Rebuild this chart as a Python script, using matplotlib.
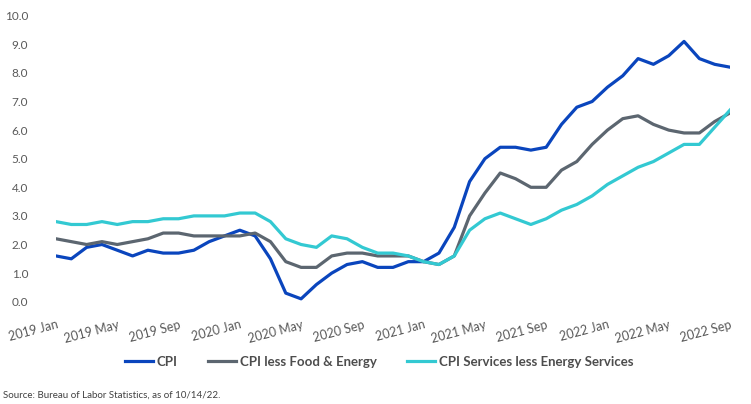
import matplotlib
matplotlib.use("Agg")
import matplotlib.pyplot as plt

plt.rcParams['font.family'] = ['Lato', 'DejaVu Sans']

# monthly, 2019 Jan .. 2022 Sep (year-over-year %)
months = ["Jan", "Feb", "Mar", "Apr", "May", "Jun", "Jul", "Aug", "Sep", "Oct", "Nov", "Dec"]
labels = [f"{y} {m}" for y in (2019, 2020, 2021, 2022) for m in months][:45]

cpi = [1.6, 1.5, 1.9, 2.0, 1.8, 1.6, 1.8, 1.7, 1.7, 1.8, 2.1, 2.3,
       2.5, 2.3, 1.5, 0.3, 0.1, 0.6, 1.0, 1.3, 1.4, 1.2, 1.2, 1.4,
       1.4, 1.7, 2.6, 4.2, 5.0, 5.4, 5.4, 5.3, 5.4, 6.2, 6.8, 7.0,
       7.5, 7.9, 8.5, 8.3, 8.6, 9.1, 8.5, 8.3, 8.2]
core = [2.2, 2.1, 2.0, 2.1, 2.0, 2.1, 2.2, 2.4, 2.4, 2.3, 2.3, 2.3,
        2.3, 2.4, 2.1, 1.4, 1.2, 1.2, 1.6, 1.7, 1.7, 1.6, 1.6, 1.6,
        1.4, 1.3, 1.6, 3.0, 3.8, 4.5, 4.3, 4.0, 4.0, 4.6, 4.9, 5.5,
        6.0, 6.4, 6.5, 6.2, 6.0, 5.9, 5.9, 6.3, 6.6]
services = [2.8, 2.7, 2.7, 2.8, 2.7, 2.8, 2.8, 2.9, 2.9, 3.0, 3.0, 3.0,
            3.1, 3.1, 2.8, 2.2, 2.0, 1.9, 2.3, 2.2, 1.9, 1.7, 1.7, 1.6,
            1.4, 1.3, 1.6, 2.5, 2.9, 3.1, 2.9, 2.7, 2.9, 3.2, 3.4, 3.7,
            4.1, 4.4, 4.7, 4.9, 5.2, 5.5, 5.5, 6.1, 6.7]

x = list(range(len(labels)))

fig = plt.figure(figsize=(7.51, 4.04), dpi=100)
ax = fig.add_axes([56 / 751, 1 - 301.7 / 404, 674 / 751, 286 / 404])

ax.plot(x, cpi, color='#0a45bd', lw=2.3, label='CPI', solid_joinstyle='round')
ax.plot(x, core, color='#5c6670', lw=2.3, label='CPI less Food & Energy', solid_joinstyle='round')
ax.plot(x, services, color='#33c9d2', lw=2.3, label='CPI Services less Energy Services', solid_joinstyle='round')

ax.set_xlim(0, 44)
ax.set_ylim(0, 10)
ax.set_yticks([i for i in range(11)])
ax.set_yticklabels([f"{i:.1f}" for i in range(11)], fontsize=8.5, color='#595959')
ax.set_xticks(x[::4])
ax.set_xticklabels(labels[::4], fontsize=9, color='#595959', rotation=15,
                   ha='right', va='top', rotation_mode='anchor')
ax.tick_params(axis='y', length=0, pad=20)
ax.tick_params(axis='x', length=0, pad=12)
for s in ax.spines.values():
    s.set_visible(False)

leg = fig.legend(loc='center', bbox_to_anchor=(379 / 751, 1 - 362 / 404), ncol=3,
                 frameon=False, handlelength=2.1, handletextpad=0.3, columnspacing=2.3,
                 prop={'size': 9.5, 'weight': 'bold'})
for t in leg.get_texts():
    t.set_color('#4d4d4d')

fig.text(3 / 751, 1 - 395 / 404, "Source: Bureau of Labor Statistics, as of 10/14/22.",
         fontsize=7, color='#404040', va='center', ha='left')

fig.savefig("out.png", dpi=100)
